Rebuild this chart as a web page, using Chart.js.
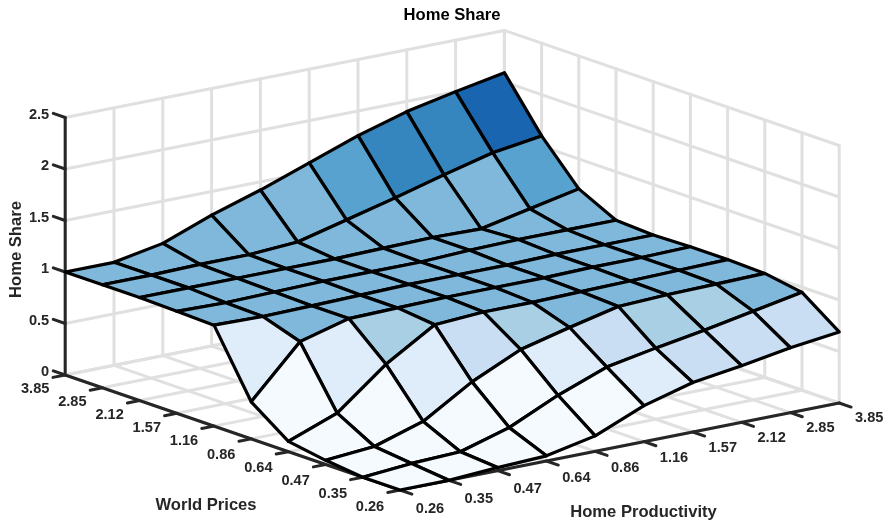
<!DOCTYPE html>
<html>
<head>
<meta charset="utf-8">
<title>Home Share</title>
<script src="https://cdn.jsdelivr.net/npm/chart.js@4"></script>
<style>
html, body { margin: 0; padding: 0; background: #fff; }
canvas { display: block; }
</style>
</head>
<body>
<canvas id="surfaceChart" width="887" height="523"></canvas>
<script>
// Achsenbeschriftungen
var homeProductivity = ['0.26', '0.35', '0.47', '0.64', '0.86', '1.16', '1.57', '2.12', '2.85', '3.85'];
var worldPrices = ['0.26', '0.35', '0.47', '0.64', '0.86', '1.16', '1.57', '2.12', '2.85', '3.85'];
var shareTicks = [0, 0.5, 1, 1.5, 2, 2.5];

// Home Share je World Price (eine Zeile), Spalten = Home Productivity
var shareAt026 = [0, 0, 0.03, 0.05, 0.15, 0.35, 0.48, 0.55, 0.63, 0.69];
var shareAt035 = [0, 0.04, 0.06, 0.20, 0.42, 0.60, 0.69, 0.77, 0.86, 0.95];
var shareAt047 = [0.04, 0.08, 0.23, 0.52, 0.74, 0.86, 0.97, 0.99, 1.00, 1.01];
var shareAt064 = [0.10, 0.28, 0.66, 0.95, 0.98, 0.98, 0.99, 1.00, 1.01, 1.02];
var shareAt086 = [0.36, 0.85, 0.98, 0.99, 1.00, 1.00, 1.00, 1.01, 1.01, 1.02];
var shareAt116 = [0.98, 0.97, 0.98, 0.99, 1.00, 1.00, 1.00, 1.01, 1.01, 1.01];
var shareAt157 = [0.99, 0.98, 0.99, 1.00, 1.00, 1.00, 1.02, 1.03, 1.03, 1.03];
var shareAt212 = [1.00, 1.00, 1.00, 1.00, 1.00, 1.01, 1.02, 1.01, 1.11, 1.21];
var shareAt285 = [1.00, 1.00, 1.01, 1.01, 1.04, 1.16, 1.28, 1.41, 1.53, 1.60];
var shareAt385 = [1.00, 1.00, 1.09, 1.27, 1.42, 1.59, 1.76, 1.90, 2.00, 2.09];
var homeShare = [shareAt026, shareAt035, shareAt047, shareAt064, shareAt086,
                 shareAt116, shareAt157, shareAt212, shareAt285, shareAt385];

// Farbstufen wie bei surf: die Zelle nimmt den Wert ihrer ersten Ecke
var levelLimits = [0.215, 0.45, 0.65, 0.84, 1.08, 1.22, 1.5];
var levelColors = ['#f4fafe', '#dfecf9', '#c9def2', '#a9cfe4', '#7fb8da', '#57a2cf', '#3585bf', '#1a65af'];

var GRID = '#e0e0e0';
var AXIS = '#262626';
var FONT = '"Liberation Sans", Arial, sans-serif';

// Orthografische Projektion: Index i (Productivity), j (Prices), z (Share)
function project(i, j, z) {
    return {
        x: 400 + i * 48.8 - j * 37.2,
        y: 490 - i * 9.67 - j * 12.78 - z * 103
    };
}

function colorFor(value) {
    var level = 0;
    while (level < levelLimits.length && value >= levelLimits[level]) {
        level++;
    }
    return levelColors[level];
}

function lineSet(points, color, width) {
    return {
        type: 'scatter',
        showLine: true,
        data: points,
        borderColor: color,
        borderWidth: width,
        pointRadius: 0,
        fill: false,
        clip: false,
        borderCapStyle: 'round',
        borderJoinStyle: 'round'
    };
}

// Reihenfolge: von hinten nach vorne
var layers = [];
var topZ = shareTicks[shareTicks.length - 1];
var lastI = homeProductivity.length - 1;
var lastJ = worldPrices.length - 1;

// Waende und Boden
shareTicks.forEach(function (z) {
    layers.push(lineSet([project(0, lastJ, z), project(lastI, lastJ, z), project(lastI, 0, z)], GRID, 3));
});
homeProductivity.forEach(function (label, i) {
    layers.push(lineSet([project(i, 0, 0), project(i, lastJ, 0), project(i, lastJ, topZ)], GRID, 3));
});
worldPrices.forEach(function (label, j) {
    layers.push(lineSet([project(0, j, 0), project(lastI, j, 0), project(lastI, j, topZ)], GRID, 3));
});

// Achsen mit Strichen
layers.push(lineSet([project(0, lastJ, topZ), project(0, lastJ, 0), project(0, 0, 0), project(lastI, 0, 0)], AXIS, 3));
shareTicks.forEach(function (z) {
    layers.push(lineSet([project(0, lastJ, z), project(0, lastJ + 0.32, z)], AXIS, 3));
});
worldPrices.forEach(function (label, j) {
    layers.push(lineSet([project(0, j, 0), project(-0.25, j, 0)], AXIS, 3));
});
homeProductivity.forEach(function (label, i) {
    layers.push(lineSet([project(i, 0, 0), project(i, -0.32, 0)], AXIS, 3));
});

// Flaeche
for (var j = lastJ - 1; j >= 0; j--) {
    for (var i = lastI - 1; i >= 0; i--) {
        var cell = lineSet([
            project(i, j, homeShare[j][i]),
            project(i + 1, j, homeShare[j][i + 1]),
            project(i + 1, j + 1, homeShare[j + 1][i + 1]),
            project(i, j + 1, homeShare[j + 1][i]),
            project(i, j, homeShare[j][i])
        ], '#000000', 3.2);
        cell.backgroundColor = colorFor(homeShare[j][i]);
        cell.fill = 'shape';
        layers.push(cell);
    }
}

// Texte ueber die Skalen setzen
var textPlugin = {
    id: 'axisTexts',
    afterDraw: function (chart) {
        var c = chart.ctx;
        var sx = chart.scales.x;
        var sy = chart.scales.y;
        function put(text, x, y, font, color, align, angle) {
            c.save();
            c.translate(sx.getPixelForValue(x), sy.getPixelForValue(y));
            c.rotate(angle || 0);
            c.font = font;
            c.fillStyle = color;
            c.textAlign = align || 'center';
            c.textBaseline = 'middle';
            c.fillText(text, 0, 0);
            c.restore();
        }
        var tickFont = 'bold 14.6px ' + FONT;
        var labelFont = 'bold 16.6px ' + FONT;
        shareTicks.forEach(function (z) {
            var p = project(0, lastJ, z);
            put(String(z), p.x - 16, p.y - 3, tickFont, AXIS, 'right');
        });
        worldPrices.forEach(function (label, j) {
            var p = project(0, j, 0);
            put(label, p.x - 30, p.y + 17 - j / 3, tickFont, AXIS);
        });
        homeProductivity.forEach(function (label, i) {
            var p = project(i, 0, 0);
            put(label, p.x + 30, p.y + 18.7 - i * 0.41, tickFont, AXIS);
        });
        put('Home Share', 452, 15, labelFont, '#000000');
        put('World Prices', 206, 505, labelFont, AXIS);
        put('Home Productivity', 643.5, 512, labelFont, AXIS);
        put('Home Share', 16, 249.5, labelFont, AXIS, 'center', -Math.PI / 2);
    }
};

// Chart.js zeichnet den ersten Datensatz zuoberst
var myChart = new Chart(document.getElementById('surfaceChart').getContext('2d'), {
    type: 'scatter',
    data: { datasets: layers.reverse() },
    options: {
        responsive: false,
        animation: false,
        layout: { padding: 0 },
        plugins: { legend: { display: false }, tooltip: { enabled: false }, title: { display: false } },
        scales: {
            x: { type: 'linear', display: false, min: 0, max: 887 },
            y: { type: 'linear', display: false, min: 0, max: 523, reverse: true }
        }
    },
    plugins: [textPlugin]
});
</script>
</body>
</html>
